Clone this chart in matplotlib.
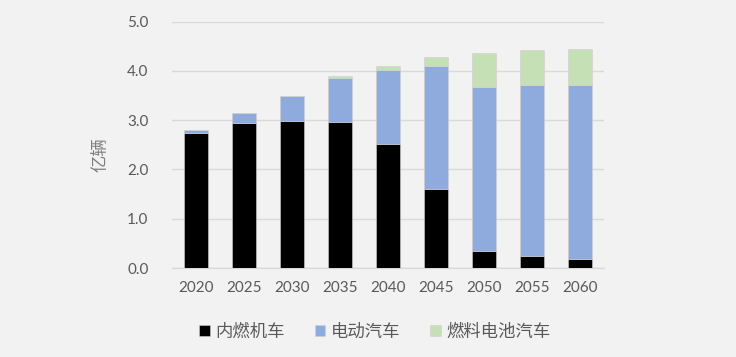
import matplotlib
matplotlib.use("Agg")
import matplotlib.pyplot as plt
import numpy as np

plt.rcParams["font.family"] = ["Lato", "Noto Sans CJK SC", "DejaVu Sans"]

years = ["2020", "2025", "2030", "2035", "2040", "2045", "2050", "2055", "2060"]
ice = [2.75, 2.95, 2.99, 2.96, 2.52, 1.61, 0.35, 0.24, 0.18]
ev = [0.06, 0.20, 0.50, 0.90, 1.50, 2.49, 3.33, 3.47, 3.53]
fcv = [0.00, 0.00, 0.01, 0.03, 0.08, 0.18, 0.68, 0.71, 0.73]
series_names = ["内燃机车", "电动汽车", "燃料电池汽车"]
series_colors = ["#000000", "#8faadc", "#c5e0b4"]
yticks = [0.0, 1.0, 2.0, 3.0, 4.0, 5.0]

bg = "#f2f2f2"
fig = plt.figure(figsize=(7.36, 3.57), dpi=100, facecolor=bg)
ax = fig.add_axes([172 / 736, 1 - 268 / 357, 432 / 736, 246.3 / 357])
ax.set_facecolor(bg)

x = np.arange(len(years))
bottom = np.zeros(len(years))
handles = []
for vals, name, col in zip([ice, ev, fcv], series_names, series_colors):
    h = ax.bar(x, vals, width=0.5, bottom=bottom, color=col, label=name,
               edgecolor="#d0d0d0", linewidth=0.4, zorder=3)
    handles.append(h)
    bottom += np.array(vals)

ax.set_xlim(-0.5, len(years) - 0.5)
ax.set_ylim(0, 5.0)
ax.set_yticks(yticks)
ax.set_yticklabels([f"{v:.1f}" for v in yticks])
ax.set_xticks(x)
ax.set_xticklabels(years)
ax.tick_params(axis="both", length=0, colors="#595959", labelsize=11)
ax.tick_params(axis="y", pad=17)
ax.tick_params(axis="x", pad=9)
ax.grid(axis="y", color="#d9d9d9", linewidth=1.0, zorder=0)
for s in ["top", "right", "left"]:
    ax.spines[s].set_visible(False)
ax.spines["bottom"].set_color("#d9d9d9")
ax.spines["bottom"].set_linewidth(1.0)

fig.text(101 / 736, 1 - 155 / 357, "亿辆", rotation=90, ha="center", va="center",
         fontsize=12.5, color="#7f7f7f", family=["Noto Sans CJK SC", "DejaVu Sans"])

leg = fig.legend(handles=handles, labels=series_names, loc="center",
                 bbox_to_anchor=(375 / 736, 1 - 332 / 357), ncol=3, frameon=False,
                 handlelength=0.6, handleheight=0.6,
                 handletextpad=0.35, columnspacing=1.7,
                 prop={"family": ["Noto Sans CJK SC", "DejaVu Sans"], "size": 12.5})
for t in leg.get_texts():
    t.set_color("#595959")

fig.savefig("out.png", dpi=100, facecolor=bg)
